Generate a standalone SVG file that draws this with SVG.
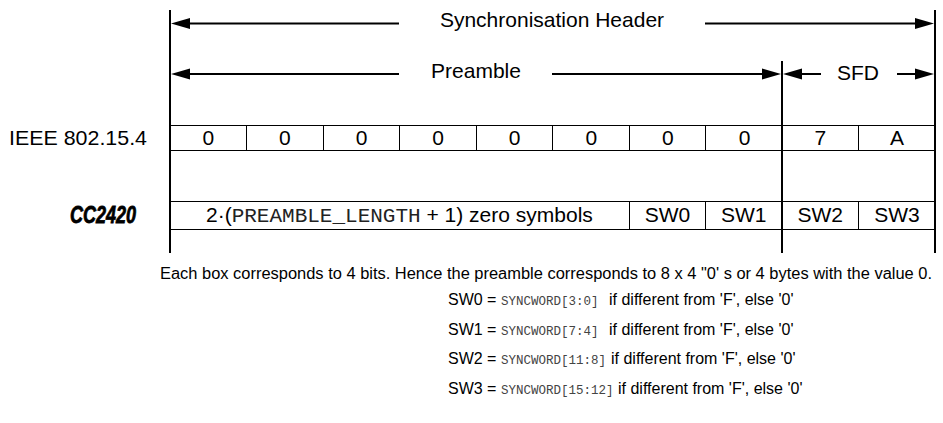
<svg xmlns="http://www.w3.org/2000/svg" width="943" height="423" viewBox="0 0 943 423">
<style>
.t{font-family:"Liberation Sans",Arial,sans-serif;font-size:21px;fill:#000}
.c{text-anchor:middle}
.m{font-family:"Liberation Mono","Courier New",monospace;fill:#222}
.s{font-family:"Liberation Sans",Arial,sans-serif;font-size:16px;fill:#000}
.sm{font-family:"Liberation Mono","Courier New",monospace;font-size:12.5px;fill:#444}
.thick{stroke:#000;stroke-width:2;fill:none}
.thin{stroke:#000;stroke-width:1;fill:none}
.ah{fill:#000}
</style>
<rect width="943" height="423" fill="#fff"/>
<g id="boundaries">
<line class="thick" x1="170" y1="10" x2="170" y2="253"/>
<line class="thick" x1="935" y1="10" x2="935" y2="253"/>
<line class="thick" x1="782" y1="61" x2="782" y2="253"/>
</g>
<g id="connectors">
<line class="thick" x1="180" y1="23.5" x2="399" y2="23.5"/>
<polygon class="ah" points="171,23.5 190,18 190,29"/>
<line class="thick" x1="705" y1="23.5" x2="925" y2="23.5"/>
<polygon class="ah" points="934,23.5 915,18 915,29"/>
<line class="thick" x1="180" y1="74" x2="399" y2="74"/>
<polygon class="ah" points="171,74 190,68.5 190,79.5"/>
<line class="thick" x1="552" y1="74" x2="772" y2="74"/>
<polygon class="ah" points="781,74 762,68.5 762,79.5"/>
<line class="thick" x1="792" y1="74" x2="821" y2="74"/>
<polygon class="ah" points="783,74 802,68.5 802,79.5"/>
<line class="thick" x1="897" y1="74" x2="925" y2="74"/>
<polygon class="ah" points="934,74 915,68.5 915,79.5"/>
</g>
<g id="labels">
<text class="t c" x="552" y="27" font-size="21.5">Synchronisation Header</text>
<text class="t c" x="476" y="78" font-size="21.5">Preamble</text>
<text class="t c" x="858" y="80" font-size="21.5">SFD</text>
</g>
<g id="ieee-row">
<text class="t" x="9" y="145" textLength="138" lengthAdjust="spacingAndGlyphs">IEEE 802.15.4</text>
<line class="thin" x1="170" y1="125.5" x2="935" y2="125.5"/>
<line class="thin" x1="170" y1="150.5" x2="935" y2="150.5"/>
<line class="thin" x1="246.5" y1="125" x2="246.5" y2="151"/>
<line class="thin" x1="323.5" y1="125" x2="323.5" y2="151"/>
<line class="thin" x1="399.5" y1="125" x2="399.5" y2="151"/>
<line class="thin" x1="476.5" y1="125" x2="476.5" y2="151"/>
<line class="thin" x1="552.5" y1="125" x2="552.5" y2="151"/>
<line class="thin" x1="629.5" y1="125" x2="629.5" y2="151"/>
<line class="thin" x1="705.5" y1="125" x2="705.5" y2="151"/>
<line class="thin" x1="858.5" y1="125" x2="858.5" y2="151"/>
<text class="t c" x="208.3" y="145">0</text>
<text class="t c" x="284.9" y="145">0</text>
<text class="t c" x="361.5" y="145">0</text>
<text class="t c" x="438.1" y="145">0</text>
<text class="t c" x="514.7" y="145">0</text>
<text class="t c" x="591.3" y="145">0</text>
<text class="t c" x="667.9" y="145">0</text>
<text class="t c" x="744.5" y="145">0</text>
<text class="t c" x="820.3" y="145">7</text>
<text class="t c" x="896.9" y="145">A</text>
</g>
<g id="cc2420-row">
<text x="70" y="223" font-family="Liberation Sans,Arial,sans-serif" font-size="24" font-weight="bold" font-style="italic" stroke="#000" stroke-width="0.8" textLength="66" lengthAdjust="spacingAndGlyphs">CC2420</text>
<line class="thin" x1="170" y1="201.5" x2="935" y2="201.5"/>
<line class="thin" x1="170" y1="229.5" x2="935" y2="229.5"/>
<line class="thin" x1="629.5" y1="201" x2="629.5" y2="230"/>
<line class="thin" x1="705.5" y1="201" x2="705.5" y2="230"/>
<line class="thin" x1="858.5" y1="201" x2="858.5" y2="230"/>
<text class="t c" x="399.4" y="222" font-size="21.5">2·(<tspan class="m">PREAMBLE_LENGTH</tspan> + 1) zero symbols</text>
<text class="t c" x="667.4" y="222">SW0</text>
<text class="t c" x="743.8" y="222">SW1</text>
<text class="t c" x="820.3" y="222">SW2</text>
<text class="t c" x="896.9" y="222">SW3</text>
</g>
<g id="notes">
<text class="s" x="448" y="305">SW0 = <tspan class="sm" x="501">SYNCWORD[3:0]</tspan><tspan x="609">if different from 'F', else '0'</tspan></text>
<text class="s" x="448" y="335">SW1 = <tspan class="sm" x="501">SYNCWORD[7:4]</tspan><tspan x="609">if different from 'F', else '0'</tspan></text>
<text class="s" x="448" y="364">SW2 = <tspan class="sm" x="501">SYNCWORD[11:8]</tspan><tspan x="611">if different from 'F', else '0'</tspan></text>
<text class="s" x="448" y="394">SW3 = <tspan class="sm" x="501">SYNCWORD[15:12]</tspan><tspan x="618">if different from 'F', else '0'</tspan></text>
<text class="s" x="160" y="279" textLength="772" lengthAdjust="spacingAndGlyphs">Each box corresponds to 4 bits. Hence the preamble corresponds to 8 x 4 "0' s or 4 bytes with the value 0.</text>
</g>
</svg>
